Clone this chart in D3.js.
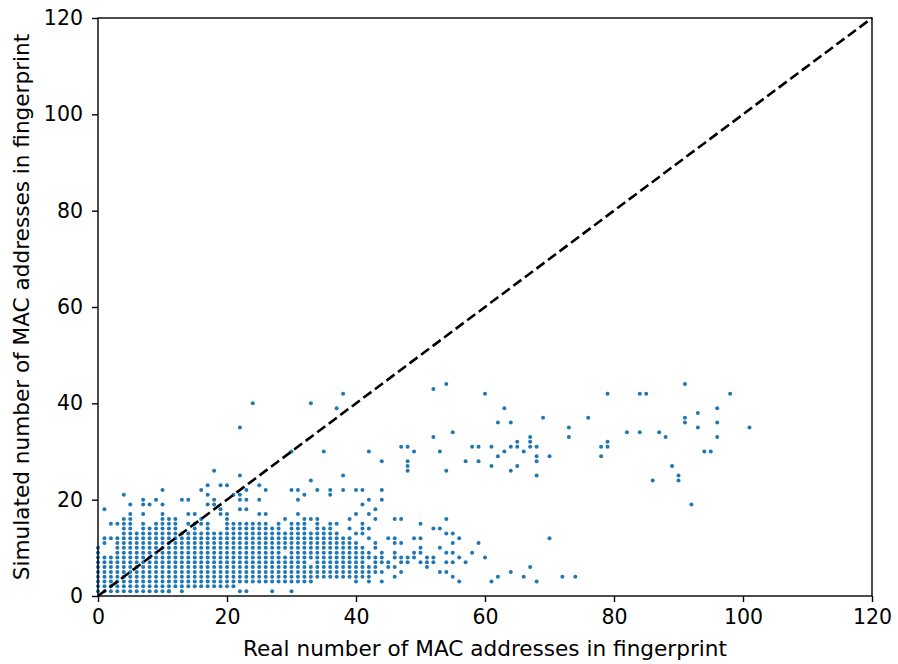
<!DOCTYPE html>
<html>
<head>
<meta charset="utf-8">
<script src="https://cdn.jsdelivr.net/npm/d3@7"></script>
<style>
	body { margin: 0; background: #fff; }
	svg text { font-family: "DejaVu Sans", sans-serif; fill: #000; }
</style>
</head>
<body>
<svg id="chart" width="898" height="664"></svg>
<script>
"use strict";

// dense columns: [real, simulated from, simulated to]
var denseRuns = [
	[0,1,10],[1,1,8],[2,1,8],[3,1,12],[4,1,16],[5,1,17],[6,1,13],[7,1,15],[8,1,14],[9,1,15],
	[10,1,17],[11,1,16],[12,2,16],[13,2,13],[14,2,13],[15,2,15],[16,2,13],[17,2,15],[18,2,13],
	[19,2,13],[20,2,16],[21,2,15],[22,3,15],[23,3,15],[24,3,15],[25,3,15],[26,3,15],[27,3,14],
	[28,3,15],[29,3,8],[29,10,13],[30,3,15],[31,3,15],[32,3,16],[33,3,6],[33,8,13],[34,4,16],
	[35,4,14],[36,4,15],[37,4,13],[38,4,12],[39,4,12]
];

// single points: [real, simulated]
var extraPoints = [
	[1,11],[1,12],[1,18],[2,12],[2,15],[3,15],[4,21],[5,19],[7,17],[7,19],[7,20],[8,19],[9,20],
	[10,19],[10,22],[11,1],[13,1],[13,20],[14,15],[14,17],[14,20],[15,17],[16,15],[16,16],[16,22],
	[17,19],[17,21],[17,23],[18,19],[18,20],[18,26],[19,17],[19,18],[19,23],[20,17],[20,23],[21,21],
	[22,1],[22,18],[22,20],[22,21],[22,25],[22,35],[23,1],[23,18],[23,20],[23,22],[24,40],[25,17],
	[25,20],[25,23],[26,17],[26,22],[27,1],[29,16],[30,1],[30,22],[30,30],[31,17],[31,20],[31,22],
	[32,21],[33,16],[33,24],[33,40],[34,22],[35,30],[36,21],[36,22],[37,15],[37,39],[38,22],[38,25],
	[38,42],[39,14],[39,16],
	[40,3],[40,4],[40,5],[40,6],[40,7],[40,8],[40,9],[40,10],[40,11],[40,13],[40,17],[40,22],
	[41,4],[41,5],[41,6],[41,7],[41,8],[41,9],[41,10],[41,13],[41,14],[41,15],[41,19],[41,22],
	[42,3],[42,4],[42,5],[42,6],[42,8],[42,9],[42,12],[42,14],[42,17],[42,20],[42,30],
	[43,5],[43,6],[43,7],[43,8],[43,10],[43,11],[43,16],[43,18],
	[44,3],[44,5],[44,7],[44,8],[44,9],[44,20],[44,22],[44,28],[45,6],[45,7],[45,12],
	[46,4],[46,6],[46,8],[46,9],[46,11],[46,12],[46,16],[47,5],[47,7],[47,8],[47,11],[47,16],[47,31],
	[48,7],[48,8],[48,26],[48,27],[48,28],[48,31],[49,8],[49,9],[49,12],[49,30],
	[50,7],[50,9],[50,10],[50,12],[50,15],[51,6],[51,7],[51,8],[52,7],[52,8],[52,14],[52,33],[52,43],
	[53,5],[53,10],[53,14],[53,30],[54,5],[54,7],[54,9],[54,13],[54,16],[54,26],[54,44],
	[55,4],[55,7],[55,9],[55,11],[55,13],[55,34],[56,3],[56,8],[56,12],[57,7],[57,28],
	[58,9],[58,31],[59,11],[59,28],[59,31],[60,8],[60,42],[61,3],[61,27],[61,31],
	[62,4],[62,29],[62,36],[63,30],[63,39],[64,5],[64,26],[64,31],[64,36],[65,27],[65,31],[65,32],
	[66,4],[66,30],[67,6],[67,31],[67,32],[67,33],[68,3],[68,25],[68,28],[68,29],[68,31],
	[69,37],[70,12],[70,29],[72,4],[73,33],[73,35],[74,4],[76,37],[78,29],[78,31],[79,31],[79,32],
	[79,42],[82,34],[84,34],[84,42],[85,42],[86,24],[87,34],[88,33],[89,27],[90,24],[90,25],
	[91,36],[91,37],[91,44],[92,19],[93,35],[93,38],[94,30],[95,30],[96,33],[96,36],[96,39],
	[98,42],[101,35]
];

var xTicks = [0, 20, 40, 60, 80, 100, 120];
var yTicks = [0, 20, 40, 60, 80, 100, 120];
var xLabel = "Real number of MAC addresses in fingerprint";
var yLabel = "Simulated number of MAC addresses in fingerprint";

var points = [];
denseRuns.forEach(function(r) {
	for (var v = r[1]; v <= r[2]; v++) points.push([r[0], v]);
});
extraPoints.forEach(function(p) { points.push(p); });

var margin = {left: 98, top: 18, right: 26, bottom: 68};
var tickFont = '20.5px', labelFont = '21.6px';
var svg = d3.select('#chart');
var W = +svg.attr('width') - margin.left - margin.right,
	H = +svg.attr('height') - margin.top - margin.bottom;

var x = d3.scaleLinear().domain([0, 120]).range([0, W]);
var y = d3.scaleLinear().domain([0, 120]).range([H, 0]);

var g = svg.append('g').attr('transform', 'translate(' + margin.left + ',' + margin.top + ')');

// scatter
g.append('g').selectAll('circle').data(points).enter().append('circle')
	.attr('cx', function(d) { return x(d[0]); })
	.attr('cy', function(d) { return y(d[1]); })
	.attr('r', 2)
	.attr('fill', '#1f77b4');

// y = x reference line
g.append('line')
	.attr('x1', x(0)).attr('y1', y(0)).attr('x2', x(120)).attr('y2', y(120))
	.attr('stroke', '#000').attr('stroke-width', 2.6)
	.attr('stroke-dasharray', '10,4.4');

// axes
var xAxis = g.append('g').attr('transform', 'translate(0,' + H + ')')
	.call(d3.axisBottom(x).tickValues(xTicks).tickSize(6).tickPadding(7).tickSizeOuter(0));
var yAxis = g.append('g')
	.call(d3.axisLeft(y).tickValues(yTicks).tickSize(6).tickPadding(9).tickSizeOuter(0));

[xAxis, yAxis].forEach(function(a) {
	a.select('.domain').remove();
	a.selectAll('line').attr('stroke', '#000').attr('stroke-width', 1.4);
	a.selectAll('text').style('font-size', tickFont).style('font-family', '"DejaVu Sans", sans-serif');
});

// frame
g.append('rect').attr('width', W).attr('height', H)
	.attr('fill', 'none').attr('stroke', '#000').attr('stroke-width', 1.4);

// axis titles
svg.append('text').attr('x', margin.left + W / 2).attr('y', 656)
	.attr('text-anchor', 'middle').style('font-size', labelFont).text(xLabel);
svg.append('text')
	.attr('transform', 'translate(29,' + (margin.top + H / 2) + ') rotate(-90)')
	.attr('text-anchor', 'middle').style('font-size', labelFont).text(yLabel);
</script>
</body>
</html>
